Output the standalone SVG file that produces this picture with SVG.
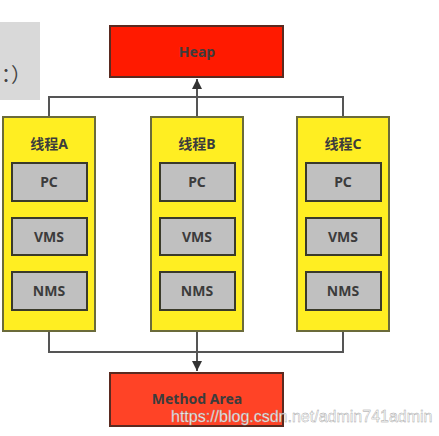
<svg xmlns="http://www.w3.org/2000/svg" width="439" height="436" viewBox="0 0 439 436">
<defs>
<style>
.thread{fill:#ffee22;stroke:#6b6b3a;stroke-width:2}
.inner{fill:#c0c0c0;stroke:#3a3a2a;stroke-width:2}
.lbl{font-family:"Noto Sans","Noto Sans CJK SC",sans-serif;font-weight:bold;font-size:14px;fill:#3c3c3c;text-anchor:middle}
.conn{fill:none;stroke:#555;stroke-width:2}
</style>
<marker id="arr" viewBox="0 0 10 10" refX="10" refY="5" markerWidth="5" markerHeight="6" orient="auto" markerUnits="strokeWidth">
<path d="M0,0 L10,5 L0,10 z" fill="#333"/>
</marker>
</defs>
<rect width="439" height="436" fill="#ffffff"/>
<g id="sidebox">
<rect x="0" y="22" width="40" height="78" fill="#d9d9d9"/>
<text x="1" y="82" font-family="Noto Sans,Noto Sans CJK SC,sans-serif" font-size="20" fill="#444">：）</text>
</g>
<g id="connectors">
<polyline class="conn" points="49,117 49,97 343,97 343,117"/>
<line class="conn" x1="197" y1="117" x2="197" y2="79" marker-end="url(#arr)"/>
<polyline class="conn" points="49,331 49,352 343,352 343,331"/>
<line class="conn" x1="197" y1="331" x2="197" y2="371" marker-end="url(#arr)"/>
</g>
<g id="heap">
<rect x="110" y="26" width="173" height="51" fill="#ff1a00" stroke="#5a2a20" stroke-width="2"/>
<text class="lbl" x="197" y="57" font-size="12" fill="#5a2020">Heap</text>
</g>
<g id="threadA">
<rect class="thread" x="3" y="117" width="92" height="214"/>
<text class="lbl" x="49" y="149">线程A</text>
<rect class="inner" x="12" y="163" width="75" height="38"/>
<text class="lbl" x="49" y="187">PC</text>
<rect class="inner" x="12" y="218" width="75" height="37"/>
<text class="lbl" x="49" y="242">VMS</text>
<rect class="inner" x="12" y="272" width="75" height="38"/>
<text class="lbl" x="49" y="296">NMS</text>
</g>
<g id="threadB">
<rect class="thread" x="151" y="117" width="92" height="214"/>
<text class="lbl" x="197" y="149">线程B</text>
<rect class="inner" x="160" y="163" width="75" height="38"/>
<text class="lbl" x="197" y="187">PC</text>
<rect class="inner" x="160" y="218" width="75" height="37"/>
<text class="lbl" x="197" y="242">VMS</text>
<rect class="inner" x="160" y="272" width="75" height="38"/>
<text class="lbl" x="197" y="296">NMS</text>
</g>
<g id="threadC">
<rect class="thread" x="297" y="117" width="92" height="214"/>
<text class="lbl" x="343" y="149">线程C</text>
<rect class="inner" x="306" y="163" width="75" height="38"/>
<text class="lbl" x="343" y="187">PC</text>
<rect class="inner" x="306" y="218" width="75" height="37"/>
<text class="lbl" x="343" y="242">VMS</text>
<rect class="inner" x="306" y="272" width="75" height="38"/>
<text class="lbl" x="343" y="296">NMS</text>
</g>
<g id="methodArea">
<rect x="110" y="373" width="173" height="53" fill="#ff4326" stroke="#5a2a20" stroke-width="2"/>
<text class="lbl" x="197" y="404" font-size="12" fill="#5a2020">Method Area</text>
</g>
<text x="171" y="422" font-family="Liberation Sans,sans-serif" font-size="16" fill="#ffffff" stroke="#999" stroke-width="0.4" opacity="0.95">https://blog.csdn.net/admin741admin</text>
</svg>
